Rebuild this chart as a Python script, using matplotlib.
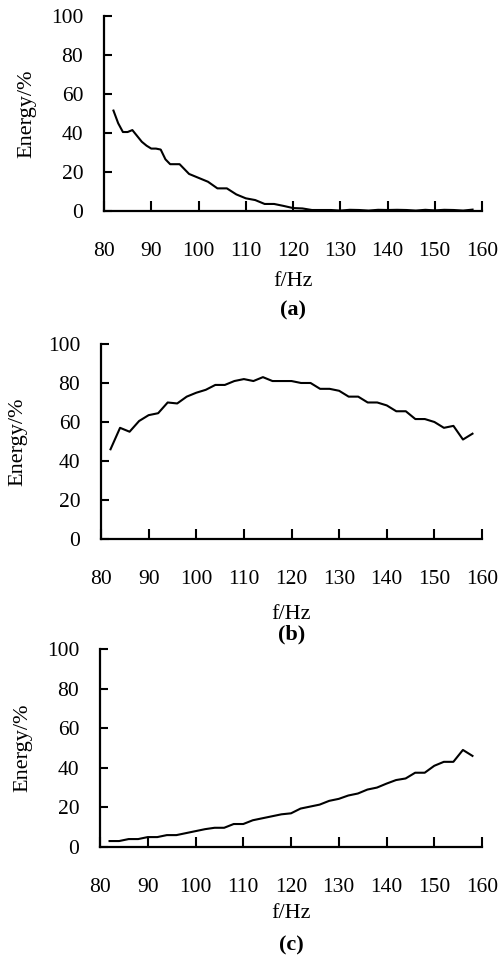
import numpy as np
import matplotlib
matplotlib.use("Agg")
import matplotlib.pyplot as plt

plt.rcParams['font.family'] = ['Liberation Serif', 'DejaVu Serif']

# frequency, Hz
freq = np.arange(82, 159, 2)

# (a) energy share, %  (read a bit finer at the start, where it bends)
freq_a = [82, 83, 84, 85, 86, 87, 88, 89, 90, 91, 92, 93, 94, 95, 96, 97, 98,
          100, 102, 104, 106, 108, 110, 112, 114, 116, 118, 120, 122, 124,
          126, 128, 130, 132, 134, 136, 138, 140, 142, 144, 146, 148, 150,
          152, 154, 156, 158]
energy_a = [51.5, 45, 40.5, 40.5, 41.5, 38.5, 35.5, 33.5, 32, 32, 31.5, 26.5, 24, 24, 24, 21.5, 19,
            17, 15, 11.6, 11.6, 8.5, 6.5, 5.6, 3.6, 3.6, 2.6, 1.5, 1.3, 0.5,
            0.5, 0.5, 0.2, 0.6, 0.5, 0.2, 0.6, 0.5, 0.6, 0.5, 0.2, 0.6, 0.3,
            0.6, 0.5, 0.2, 0.7]

# (b)
energy_b = [46, 57, 55, 60.5, 63.5, 64.5, 70, 69.5, 73, 75,
            76.5, 79, 79, 81, 82, 81, 83, 81, 81, 81,
            80, 80, 77, 77, 76, 73, 73, 70, 70, 68.5,
            65.5, 65.5, 61.5, 61.5, 60, 57, 58, 51, 54]

# (c)
energy_c = [3, 3, 4, 4, 5, 5, 6, 6, 7, 8,
            9, 9.7, 9.7, 11.6, 11.6, 13.5, 14.5, 15.5, 16.5, 17,
            19.4, 20.4, 21.4, 23.3, 24.3, 26, 27, 29, 30, 32,
            33.8, 34.6, 37.5, 37.5, 41, 43, 43, 49, 46]

series = [(freq_a, energy_a), (freq, energy_b), (freq, energy_c)]
tags = ['(a)', '(b)', '(c)']

# [left, bottom, width, height], xlabel y, tag y, ylabel x
layout = [
    ([0.2076, 0.780, 0.7545, 0.2033], -0.364, -0.508, -0.204),
    ([0.2016, 0.438, 0.7605, 0.2033], -0.385, -0.490, -0.218),
    ([0.1996, 0.1168, 0.7625, 0.2065], -0.338, -0.495, -0.2016),
]

fig = plt.figure(figsize=(5.01, 9.59), dpi=100)

for (x, y), tag, (rect, xl_y, tag_y, yl_x) in zip(series, tags, layout):
    ax = fig.add_axes(rect)
    ax.plot(x, y, color='black', lw=1.5)
    ax.set_xlim(80, 160)
    ax.set_ylim(0, 100)
    ax.set_xticks(range(80, 161, 10))
    ax.set_yticks(range(0, 101, 20))
    for s in ['top', 'right']:
        ax.spines[s].set_visible(False)
    for s in ['left', 'bottom']:
        ax.spines[s].set_linewidth(1.6)
    ax.tick_params(axis='x', direction='in', length=7, width=1.5, pad=22, labelsize=15.5)
    ax.tick_params(axis='y', direction='in', length=6, width=1.5, pad=15, labelsize=15.5)
    ax.set_xlabel('f/Hz', fontsize=16)
    ax.xaxis.set_label_coords(0.5, xl_y)
    ax.xaxis.label.set_va('center')
    ax.set_ylabel('Energy/%', fontsize=16)
    ax.yaxis.set_label_coords(yl_x, 0.5)
    ax.yaxis.label.set_va('center')
    ax.text(0.5, tag_y, tag, transform=ax.transAxes, ha='center', va='center',
            fontsize=16, fontweight='bold')

fig.savefig('out.png', dpi=100)
